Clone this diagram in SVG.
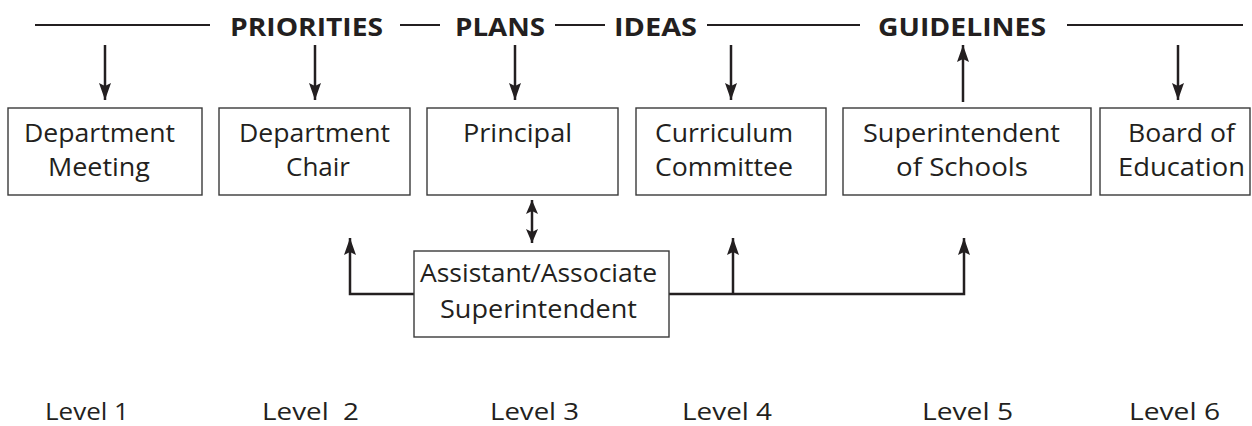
<svg xmlns="http://www.w3.org/2000/svg" width="1252" height="426" viewBox="0 0 1252 426">
<style>
.bg{fill:#fff}
.box{fill:#fff;stroke:#3a3a3a;stroke-width:1.4}
.t{font-family:"Open Sans","Liberation Sans",sans-serif;font-size:25px;fill:#231f20}
.lv{font-family:"Open Sans","Liberation Sans",sans-serif;font-size:24px;fill:#231f20}
.h{font-family:"Open Sans","Liberation Sans",sans-serif;font-size:25px;font-weight:bold;fill:#231f20}
.rule{stroke:#231f20;stroke-width:2;fill:none}
.ar{stroke:#231f20;stroke-width:2.5;fill:none}
</style>
<defs>
<marker id="ah" markerUnits="userSpaceOnUse" markerWidth="18" markerHeight="14" refX="17" refY="6" orient="auto">
<path d="M0,0 L17,6 L0,12 L3,6 z" fill="#231f20"/>
</marker>
<marker id="ahs" markerUnits="userSpaceOnUse" markerWidth="16" markerHeight="14" refX="14" refY="6" orient="auto-start-reverse">
<path d="M0,0 L14,6 L0,12 L3,6 z" fill="#231f20"/>
</marker>
</defs>
<rect class="bg" x="0" y="0" width="1252" height="426"/>
<g id="headings">
<path class="rule" d="M35,25 H210 M400,25 H440 M555,25 H605 M707,25 H860 M1067,25 H1243"/>
<text class="h" x="230" y="36" textLength="153" lengthAdjust="spacingAndGlyphs">PRIORITIES</text>
<text class="h" x="455" y="36" textLength="90" lengthAdjust="spacingAndGlyphs">PLANS</text>
<text class="h" x="614" y="36" textLength="83" lengthAdjust="spacingAndGlyphs">IDEAS</text>
<text class="h" x="878" y="36" textLength="168" lengthAdjust="spacingAndGlyphs">GUIDELINES</text>
</g>
<g id="connectors">
<line class="ar" x1="105" y1="45" x2="105" y2="100" marker-end="url(#ah)"/>
<line class="ar" x1="315" y1="45" x2="315" y2="100" marker-end="url(#ah)"/>
<line class="ar" x1="515" y1="45" x2="515" y2="100" marker-end="url(#ah)"/>
<line class="ar" x1="731" y1="45" x2="731" y2="100" marker-end="url(#ah)"/>
<line class="ar" x1="963" y1="102" x2="963" y2="45" marker-end="url(#ah)"/>
<line class="ar" x1="1178" y1="45" x2="1178" y2="100" marker-end="url(#ah)"/>
<line class="ar" x1="532" y1="200" x2="532" y2="243" marker-start="url(#ahs)" marker-end="url(#ahs)"/>
<path class="ar" d="M414,294 H350 V238" marker-end="url(#ah)"/>
<path class="ar" d="M669,294 H964 V238" marker-end="url(#ah)"/>
<path class="ar" d="M733,294 V238" marker-end="url(#ah)"/>
</g>
<g id="dept-meeting">
<rect class="box" x="8" y="108" width="194" height="87"/>
<text class="t" x="24" y="142" textLength="151" lengthAdjust="spacingAndGlyphs">Department</text>
<text class="t" x="48" y="176" textLength="102" lengthAdjust="spacingAndGlyphs">Meeting</text>
</g>
<g id="dept-chair">
<rect class="box" x="219" y="108" width="191" height="87"/>
<text class="t" x="239" y="142" textLength="151" lengthAdjust="spacingAndGlyphs">Department</text>
<text class="t" x="286" y="176" textLength="64" lengthAdjust="spacingAndGlyphs">Chair</text>
</g>
<g id="principal">
<rect class="box" x="427" y="108" width="191" height="87"/>
<text class="t" x="463" y="142" textLength="109" lengthAdjust="spacingAndGlyphs">Principal</text>
</g>
<g id="curriculum">
<rect class="box" x="636" y="108" width="190" height="87"/>
<text class="t" x="655" y="142" textLength="138" lengthAdjust="spacingAndGlyphs">Curriculum</text>
<text class="t" x="655" y="176" textLength="138" lengthAdjust="spacingAndGlyphs">Committee</text>
</g>
<g id="superintendent">
<rect class="box" x="843" y="108" width="248" height="87"/>
<text class="t" x="863" y="142" textLength="197" lengthAdjust="spacingAndGlyphs">Superintendent</text>
<text class="t" x="896" y="176" textLength="132" lengthAdjust="spacingAndGlyphs">of Schools</text>
</g>
<g id="board">
<rect class="box" x="1100" y="108" width="150" height="87"/>
<text class="t" x="1128" y="142" textLength="107" lengthAdjust="spacingAndGlyphs">Board of</text>
<text class="t" x="1118" y="176" textLength="127" lengthAdjust="spacingAndGlyphs">Education</text>
</g>
<g id="assistant">
<rect class="box" x="414" y="251" width="255" height="86"/>
<text class="t" x="420" y="282" textLength="237" lengthAdjust="spacingAndGlyphs">Assistant/Associate</text>
<text class="t" x="440" y="318" textLength="197" lengthAdjust="spacingAndGlyphs">Superintendent</text>
</g>
<g id="levels">
<text class="lv" x="45" y="420" textLength="84" lengthAdjust="spacingAndGlyphs">Level 1</text>
<text class="lv" x="262" y="420" textLength="97" lengthAdjust="spacingAndGlyphs" xml:space="preserve">Level  2</text>
<text class="lv" x="490" y="420" textLength="89" lengthAdjust="spacingAndGlyphs">Level 3</text>
<text class="lv" x="682" y="420" textLength="90" lengthAdjust="spacingAndGlyphs">Level 4</text>
<text class="lv" x="922" y="420" textLength="91" lengthAdjust="spacingAndGlyphs">Level 5</text>
<text class="lv" x="1129" y="420" textLength="91" lengthAdjust="spacingAndGlyphs">Level 6</text>
</g>
</svg>
